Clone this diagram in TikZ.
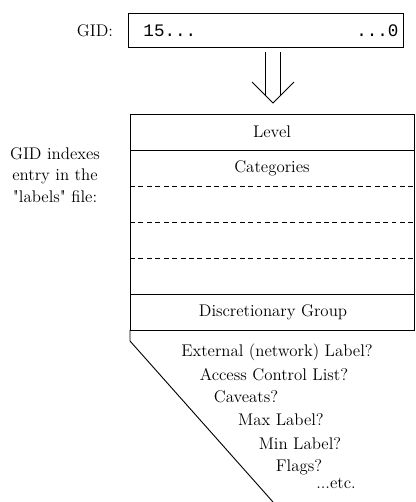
\documentclass[tikz,border=0pt]{standalone}
\usepackage{fontspec}
\newfontfamily\gidmono{Liberation Mono}

\begin{document}
\begin{tikzpicture}[x = 0.025cm, y = -0.025cm, line width = 0.65pt, font = \fontsize{12}{15.5}\selectfont]

	% Definitions

	\def\L{130}		% Left edge of the entry
	\def\R{414}		% Right edge of the entry
	\def\T{114}		% Top of the entry
	\def\B{330}		% Bottom of the entry

	\useasboundingbox (0, 0) rectangle (416, 502);

	% GID word

	\node (gidname) at (95, 31) {GID:};
	\node [draw, minimum width = 6.875cm, minimum height = 0.85cm, inner sep = 0] (gid) at (265.5, 30) {};
	\node [anchor = west, inner sep = 0] (high) at (143, 31) {\gidmono\fontsize{12.5}{14}\selectfont 15...};
	\node [anchor = east, inner sep = 0] (low) at (399, 31) {\gidmono\fontsize{12.5}{14}\selectfont ...0};

	% Double arrow

	\coordinate (shaft) at (272.5, 52);
	\coordinate (tip) at (273, 103);
	\draw (shaft) ++(-7.5, 0) -- ++(0, 43);
	\draw (shaft) ++(7.5, 0) -- ++(0, 44);
	\draw (tip) ++(-21, -21) -- (tip) -- ++(21, -21);

	% Entry in the labels file

	\node [align = center] (entry) at (55, 175) {GID indexes\\entry in the\\\textquotedbl labels\textquotedbl{} file:};

	\draw (\L, \T) rectangle (\R, \B);
	\draw (\L, 150) -- (\R, 150);
	\draw (\L, 294) -- (\R, 294);
	\foreach \y in {186, 222, 258}
		\draw [dashed, dash pattern = on 3.5pt off 2.5pt] (\L, \y) -- (\R, \y);

	\node (level) at (272, 132) {Level};
	\node (categories) at (272, 168) {Categories};
	\node (dgroup) at (273, 312) {Discretionary Group};

	% Optional fields

	\draw (\L, \B) -- (\L, 341) -- (273, 502);

	\node (external) at (277, 352) {External (network) Label?};
	\node (acl) at (274, 375) {Access Control List?};
	\node (caveats) at (246, 397) {Caveats?};
	\node (maxlabel) at (281, 420) {Max Label?};
	\node (minlabel) at (300, 444) {Min Label?};
	\node (flags) at (299, 467) {Flags?};
	\node (etc) at (336, 483) {...etc.};

\end{tikzpicture}
\end{document}
